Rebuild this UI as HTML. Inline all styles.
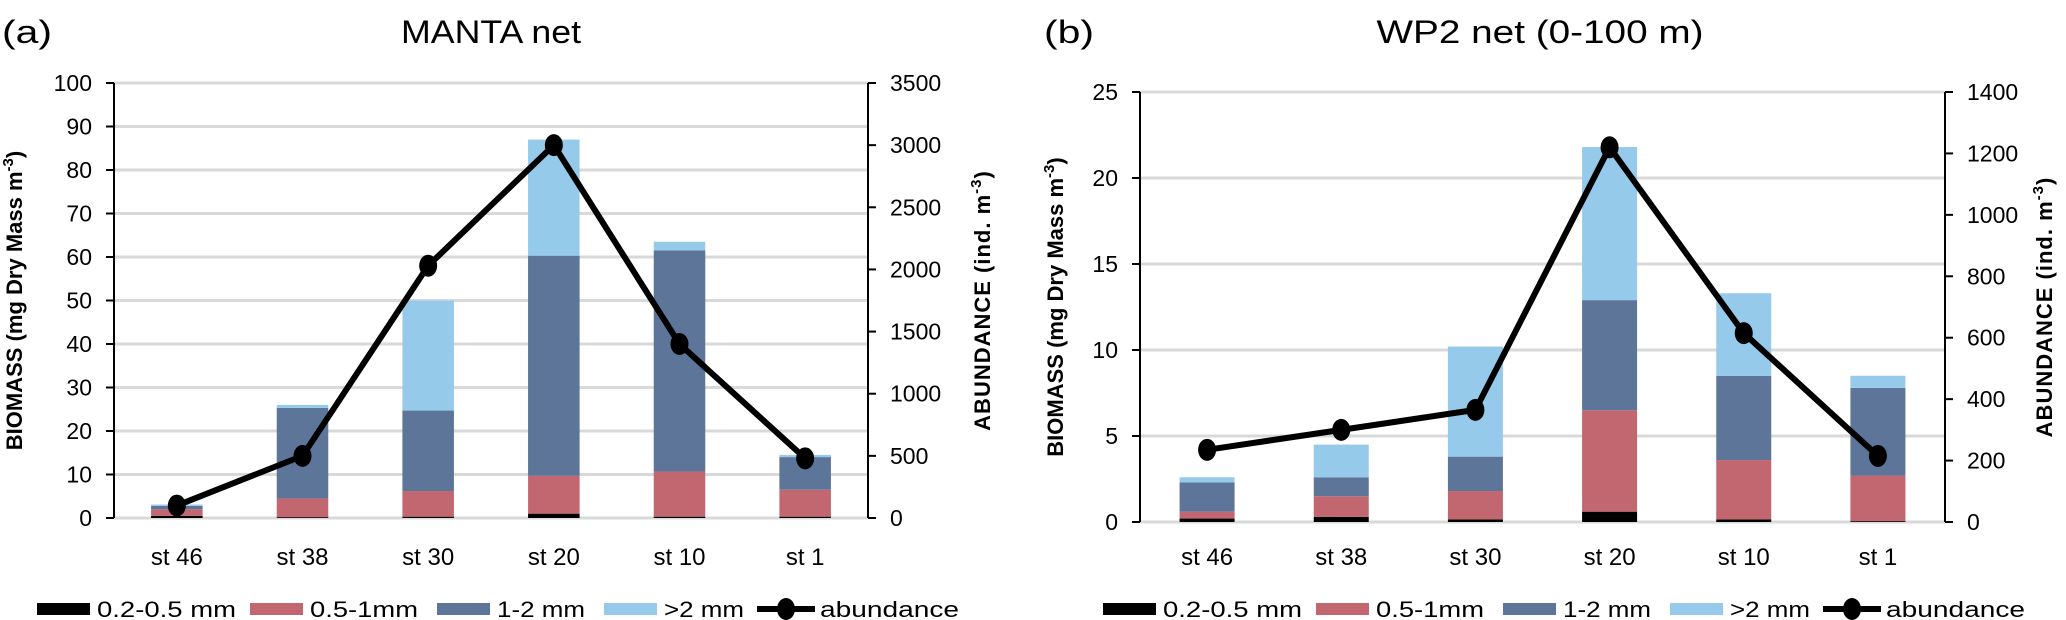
<!DOCTYPE html>
<html><head><meta charset="utf-8"><style>
html,body{margin:0;padding:0;background:#fff;}
svg{display:block;font-family:"Liberation Sans",Arial,sans-serif;}
</style></head><body>
<svg id="chart" width="2066" height="620" viewBox="0 0 2066 620" xmlns="http://www.w3.org/2000/svg"></svg>
<script>
const categories = ["st 46","st 38","st 30","st 20","st 10","st 1"];
const seriesNames = ["0.2-0.5 mm","0.5-1mm","1-2 mm",">2 mm"];
// panel a (MANTA) stacked segment values
const mantaS1 = [0.5,0.2,0.3,1.0,0.3,0.3];
const mantaS2 = [1.5,4.3,5.9,8.7,10.4,6.2];
const mantaS3 = [0.8,20.8,18.5,50.6,50.8,7.5];
const mantaS4 = [0.3,0.7,25.3,26.7,2.0,0.5];
const mantaAbund = [100,500,2030,3000,1400,480];
// panel b (WP2) stacked segment values
const wp2S1 = [0.2,0.3,0.15,0.6,0.15,0.05];
const wp2S2 = [0.4,1.2,1.65,5.9,3.45,2.65];
const wp2S3 = [1.7,1.1,2.0,6.4,4.9,5.1];
const wp2S4 = [0.3,1.9,6.4,8.9,4.8,0.7];
const wp2Abund = [235,300,365,1220,615,215];
const mantaLeftTicks = [0,10,20,30,40,50,60,70,80,90,100];
const mantaRightTicks = [0,500,1000,1500,2000,2500,3000,3500];
const wp2LeftTicks = [0,5,10,15,20,25];
const wp2RightTicks = [0,200,400,600,800,1000,1200,1400];

const colors = ["#000000","#c26670","#5d7599","#95caeb"];
const NS="http://www.w3.org/2000/svg";
const svg=document.getElementById('chart');
function el(tag,attrs,parent){const e=document.createElementNS(NS,tag);for(const k in attrs)e.setAttribute(k,attrs[k]);(parent||svg).appendChild(e);return e;}
function txt(s,attrs,parent){const t=el('text',attrs,parent);t.textContent=s;return t;}

function panel(cfg){
  const g=el('g',{});
  
  
  const {x0,x1,y0,y1,lmax,rmax}=cfg;
  const ys=v=>y1-(v/lmax)*(y1-y0);
  const yr=v=>y1-(v/rmax)*(y1-y0);
  const step=(x1-x0)/categories.length;
  const xc=i=>x0+step*(i+0.5);
  // grid
  cfg.lticks.forEach(t=>{
    const l=el('line',{x1:x0,x2:x1,y1:ys(t),y2:ys(t),stroke:'#d9d9d9','stroke-width':3},g);
    
    
    el('line',{x1:x0-8,x2:x0,y1:ys(t),y2:ys(t),stroke:'#000','stroke-width':2},g);
    const lb=txt(String(t),{x:x0-22,y:ys(t)+8,'text-anchor':'end','font-size':23},g);
    
    
  });
  cfg.rticks.forEach(t=>{
    el('line',{x1:x1,x2:x1+8,y1:yr(t),y2:yr(t),stroke:'#000','stroke-width':2},g);
    const lb=txt(String(t),{x:x1+22,y:yr(t)+8,'text-anchor':'start','font-size':23},g);
    
    
  });
  // bars
  const bw=step*0.41;
  categories.forEach((c,i)=>{
    let base=0;
    cfg.series.forEach((s,k)=>{
      const v=s[i];
      const r=el('rect',{x:xc(i)-bw/2,y:ys(base+v),width:bw,height:Math.max(0,ys(base)-ys(base+v)),fill:colors[k]},g);
      
      
      base+=v;
    });
    const cl=txt(c,{x:xc(i),y:565,'text-anchor':'middle','font-size':24},g);
    
    
  });
  // axes
  el('line',{x1:x0,x2:x0,y1:y0,y2:y1,stroke:'#000','stroke-width':2},g);
  el('line',{x1:x1,x2:x1,y1:y0,y2:y1,stroke:'#000','stroke-width':2},g);
  // abundance line
  const pts=cfg.abund.map((v,i)=>xc(i)+','+yr(v)).join(' ');
  const pl=el('polyline',{points:pts,fill:'none',stroke:'#000','stroke-width':6,'stroke-linejoin':'round'},g);
  
  
  cfg.abund.forEach((v,i)=>{
    const c=el('ellipse',{cx:xc(i),cy:yr(v),rx:9,ry:11,fill:'#000'},g);
    
    
  });
  // axis titles
  const lt=txt('BIOMASS (mg Dry Mass m',{transform:`translate(${cfg.ltx},${(y0+y1)/2}) rotate(-90)`,'text-anchor':'middle','font-size':22,'font-weight':'bold'},g);
  const sup=el('tspan',{dy:-9,'font-size':15},lt);sup.textContent='-3';
  const cl2=el('tspan',{dy:9},lt);cl2.textContent=')';
  
  
  const rt=txt('ABUNDANCE (ind. m',{transform:`translate(${cfg.rtx},${(y0+y1)/2}) rotate(-90)`,'text-anchor':'middle','font-size':22,'font-weight':'bold','letter-spacing':1},g);
  const sup2=el('tspan',{dy:-9,'font-size':15},rt);sup2.textContent='-3';
  const cl3=el('tspan',{dy:9},rt);cl3.textContent=')';
  
  
  // titles
  const pt=txt(cfg.panelLabel,{x:cfg.plx,y:43,'font-size':32,textLength:50,lengthAdjust:'spacingAndGlyphs'},g);
  
  
  const tt=txt(cfg.title,{x:cfg.tx,y:43,'text-anchor':'middle','font-size':32,textLength:cfg.tw,lengthAdjust:'spacingAndGlyphs'},g);
  
  
  // legend
  const lg=el('g',{},g);
  
  
  const L=cfg.lx;
  const sw=[[0,139],[213,108],[400,88],[567,80]];
  seriesNames.forEach((n,k)=>{
    const e=el('g',{},lg);
    
    
    el('rect',{x:L+sw[k][0],y:603,width:53,height:12,fill:colors[k]},e);
    txt(n,{x:L+sw[k][0]+60,y:617,'font-size':22,textLength:sw[k][1],lengthAdjust:'spacingAndGlyphs'},e);
  });
  const e=el('g',{},lg);
  
  
  el('line',{x1:L+720,x2:L+778,y1:609,y2:609,stroke:'#000','stroke-width':6},e);
  el('ellipse',{cx:L+749,cy:609,rx:9,ry:11,fill:'#000'},e);
  txt('abundance',{x:L+783,y:617,'font-size':22,textLength:139,lengthAdjust:'spacingAndGlyphs'},e);
}

panel({id:'manta',x0:114,x1:868,y0:83,y1:518,lmax:100,rmax:3500,
  series:[mantaS1,mantaS2,mantaS3,mantaS4],abund:mantaAbund,
  lticks:mantaLeftTicks,rticks:mantaRightTicks,ltx:22,rtx:990,
  panelLabel:'(a)',plx:2,title:'MANTA net',tx:491,tw:180,lx:37});
panel({id:'wp2',x0:1140,x1:1945,y0:92,y1:522,lmax:25,rmax:1400,
  series:[wp2S1,wp2S2,wp2S3,wp2S4],abund:wp2Abund,
  lticks:wp2LeftTicks,rticks:wp2RightTicks,ltx:1063,rtx:2052,
  panelLabel:'(b)',plx:1044,title:'WP2 net (0-100 m)',tx:1540,tw:327,lx:1103});
</script>
</body></html>
